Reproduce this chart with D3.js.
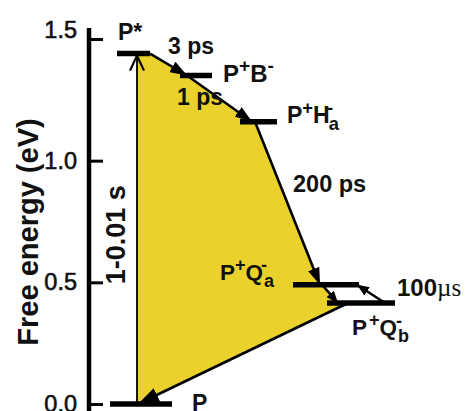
<!DOCTYPE html>
<html><head><meta charset="utf-8">
<script src="https://cdn.jsdelivr.net/npm/d3@7"></script>
<style>
body{margin:0;background:#fff;}
svg{display:block;font-family:"Liberation Sans",Arial,Helvetica,sans-serif;}
</style></head><body>
<svg id="chart" width="467" height="411"></svg>
<script>
// Energy levels of the states (eV) and their span along the reaction coordinate
const stateNames  = ["P*", "P+B-", "P+Ha-", "P+Qa-", "P+Qb-", "P"];
const stateEnergy = [1.44, 1.35, 1.16, 0.49, 0.415, 0.0];
const stateStart  = [2.7, 9.0, 15.0, 20.3, 23.7, 2.0];
const stateEnd    = [6.0, 12.2, 18.7, 26.9, 30.5, 8.2];

// Transfer steps: source state, target state, and where each leaves / arrives on the reaction coordinate
const stepFrom = ["P", "P*", "P+B-", "P+Ha-", "P+Qa-", "P+Qb-", "P+Qb-"];
const stepTo   = ["P*", "P+B-", "P+Ha-", "P+Qa-", "P+Qb-", "P", "P+Qa-"];
const stepX0   = [4.7, 6.0, 9.7, 16.5, 23.2, 25.8, 29.5];
const stepX1   = [4.7, 9.7, 16.2, 23.0, 24.8, 4.8, 26.7];
const stepTime = ["1-0.01 s", "3 ps", "1 ps", "200 ps", "100µs", "", ""];

const energyTicks = [0.0, 0.5, 1.0, 1.5];

const energyOf = name => stateEnergy[stateNames.indexOf(name)];

const svg = d3.select("#chart");
const x = d3.scaleLinear().domain([0, 35]).range([90, 440]);
const y = d3.scaleLinear().domain([0, 1.5]).range([404, 39]);

// arrowheads
const defs = svg.append("defs");
function head(id, len, half) {
  defs.append("marker").attr("id", id)
    .attr("markerUnits", "userSpaceOnUse")
    .attr("viewBox", `0 ${-half} ${len} ${half * 2}`)
    .attr("markerWidth", len).attr("markerHeight", half * 2)
    .attr("refX", len).attr("refY", 0).attr("orient", "auto")
    .append("path").attr("d", `M0,${-half}L${len},0L0,${half}Z`).attr("fill", "#000");
}
head("hd", 17, 6);
head("hdBig", 21, 7.5);
head("hdSmall", 12, 5);
defs.append("marker").attr("id", "open")
  .attr("markerUnits", "userSpaceOnUse")
  .attr("viewBox", "-16 -9 18 18").attr("markerWidth", 18).attr("markerHeight", 18)
  .attr("refX", 0).attr("refY", 0).attr("orient", "auto")
  .append("path").attr("d", "M-15,-7L0,0L-15,7").attr("fill", "none")
  .attr("stroke", "#000").attr("stroke-width", 2.2);

const steps = stepFrom.map((f, i) => ({
  from: f, to: stepTo[i], x0: stepX0[i], x1: stepX1[i],
  e0: energyOf(f), e1: energyOf(stepTo[i]), time: stepTime[i]
}));

// yellow cycle area: follow the forward steps around the loop
const cycle = steps.slice(0, 6);
const poly = [];
cycle.forEach(s => { poly.push([x(s.x0), y(s.e0)]); poly.push([x(s.x1), y(s.e1)]); });
svg.append("path")
  .attr("d", d3.line()(poly) + "Z")
  .attr("fill", "#EAD12C");

// transfer arrows
const markerFor = i => i === 0 ? "url(#open)" : (i === 5 ? "url(#hdBig)" : (i >= 4 ? "url(#hdSmall)" : "url(#hd)"));
svg.append("g").selectAll("line").data(steps).join("line")
  .attr("x1", d => x(d.x0)).attr("y1", d => y(d.e0))
  .attr("x2", d => x(d.x1)).attr("y2", (d, i) => y(d.e1) + (i === 0 ? 2 : 0))
  .attr("stroke", "#000")
  .attr("stroke-width", (d, i) => i === 0 ? 1.8 : 2.6)
  .attr("marker-end", (d, i) => markerFor(i));

// energy level bars
svg.append("g").selectAll("line").data(stateNames).join("line")
  .attr("x1", (d, i) => x(stateStart[i])).attr("x2", (d, i) => x(stateEnd[i]))
  .attr("y1", (d, i) => y(stateEnergy[i])).attr("y2", (d, i) => y(stateEnergy[i]))
  .attr("stroke", "#000").attr("stroke-width", 5.5);

// energy axis
const axisX = 89;
svg.append("line").attr("x1", axisX).attr("x2", axisX).attr("y1", 28).attr("y2", 411)
  .attr("stroke", "#000").attr("stroke-width", 4.5);
const axis = svg.append("g").attr("transform", `translate(${axisX},0)`)
  .call(d3.axisLeft(y).tickValues(energyTicks).tickFormat(d3.format(".1f"))
    .tickSize(-14).tickPadding(12));
axis.select(".domain").remove();
axis.selectAll(".tick line").attr("stroke", "#000").attr("stroke-width", 3);
axis.selectAll(".tick text").attr("fill", "#111").attr("font-size", 23.5)
  .attr("stroke", "#111").attr("stroke-width", 0.6)
  .attr("font-family", "'Liberation Sans',Arial,sans-serif")
  .attr("dy", d => d === 1.5 ? "-0.05em" : "0.32em");

svg.append("text")
  .attr("transform", "translate(38,232) rotate(-90)")
  .attr("text-anchor", "middle").attr("font-weight", "bold").attr("font-size", 29)
  .attr("fill", "#111").text("Free energy (eV)");

// state labels with charge superscripts / subscripts
function stateLabel(px, py, parts, size) {
  const t = svg.append("text").attr("x", px).attr("y", py)
    .attr("font-weight", "bold").attr("font-size", size).attr("fill", "#111");
  let shift = 0;
  parts.forEach(p => {
    const target = p.sup ? -0.38 : (p.sub ? 0.32 : 0);
    const sp = t.append("tspan").text(p.t)
      .attr("dy", ((target - shift) * size).toFixed(1) + "px");
    if (p.sup || p.sub) sp.attr("font-size", size * 0.8);
    if (p.dx) sp.attr("dx", p.dx);
    shift = target;
  });
  return t;
}
const sIdx = n => stateNames.indexOf(n);
const sx0 = n => x(stateStart[sIdx(n)]), sx1 = n => x(stateEnd[sIdx(n)]);
const sy = n => y(stateEnergy[sIdx(n)]);

stateLabel(sx0("P*") + 1, sy("P*") - 14, [{t: "P*"}], 23);
stateLabel(sx1("P+B-") + 11, sy("P+B-") + 6, [{t: "P"}, {t: "+", sup: true}, {t: "B"}, {t: "-", sup: true}], 24);
stateLabel(sx1("P+Ha-") + 10, sy("P+Ha-") + 1, [{t: "P"}, {t: "+", sup: true}, {t: "H"}, {t: "a", sub: true, dx: -1}, {t: "-", sup: true, dx: -12}], 23);
stateLabel(sx0("P+Qa-") - 73, sy("P+Qa-") - 5, [{t: "P"}, {t: "+", sup: true}, {t: "Q"}, {t: "a", sub: true, dx: 1}, {t: "-", sup: true, dx: -13}], 22.5);
stateLabel(sx1("P+Qb-") - 43, sy("P+Qb-") + 32, [{t: "P"}, {t: "+", sup: true, dx: 2}, {t: "Q"}, {t: "b", sub: true, dx: 1}, {t: "-", sup: true, dx: -13}], 22.5);
stateLabel(sx1("P") + 20, sy("P") + 7, [{t: "P"}], 23);

// rate labels
const rate = i => steps[i].time;
const rateText = (px, py, txt, size) => svg.append("text").attr("x", px).attr("y", py)
  .attr("font-weight", "bold").attr("font-size", size).attr("fill", "#111").text(txt);
rateText(x(steps[1].x0) + 18, sy("P*") + 0, rate(1), 23);
rateText(sx0("P+B-") - 3, sy("P+B-") + 29, rate(2), 23);
rateText(x(steps[3].x0) + 38, sy("P+Ha-") + 70, rate(3), 23.5);
svg.append("text")
  .attr("transform", `translate(125,${(y(0) + y(1.44)) / 2 + 6}) rotate(-90)`)
  .attr("text-anchor", "middle").attr("font-weight", "bold").attr("font-size", 27)
  .attr("fill", "#111").text(rate(0));
const hund = svg.append("text").attr("x", sx1("P+Qa-") + 38).attr("y", sy("P+Qa-") + 11)
  .attr("fill", "#111").attr("font-size", 24);
hund.append("tspan").attr("font-weight", "bold").text(rate(4).slice(0, 3));
hund.append("tspan").attr("font-family", "'Liberation Serif','Times New Roman',serif")
  .attr("font-size", 25).text(rate(4).slice(3));
</script>
</body></html>
